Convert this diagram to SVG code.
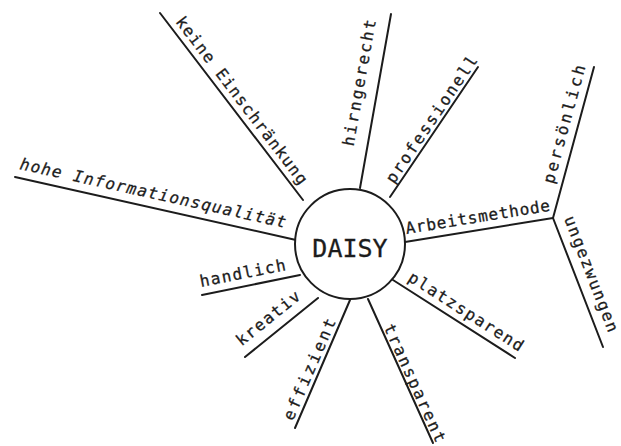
<svg xmlns="http://www.w3.org/2000/svg" width="621" height="446" viewBox="0 0 621 446">
<style>
.ln{stroke:#1c1c1c;stroke-width:2;fill:none;stroke-linecap:round}
.lb{font-family:"DejaVu Sans Mono","Liberation Mono",monospace;font-size:16px;fill:#1c1c1c;stroke:#1c1c1c;stroke-width:0.3}
.ctr{font-family:"DejaVu Sans Mono","Liberation Mono",monospace;font-size:25px;fill:#1c1c1c;stroke:#1c1c1c;stroke-width:0.3}
</style>
<rect width="621" height="446" fill="#ffffff"/>
<g id="connectors">
<line class="ln" x1="160" y1="13" x2="303" y2="200"/>
<line class="ln" x1="391" y1="14" x2="360" y2="188"/>
<line class="ln" x1="478" y1="67" x2="390" y2="197"/>
<line class="ln" x1="15" y1="177" x2="296" y2="240"/>
<line class="ln" x1="405" y1="242" x2="553" y2="218"/>
<line class="ln" x1="553" y1="218" x2="594" y2="67"/>
<line class="ln" x1="553" y1="218" x2="603" y2="347"/>
<line class="ln" x1="393" y1="280" x2="515" y2="358"/>
<line class="ln" x1="202" y1="295" x2="300" y2="275"/>
<line class="ln" x1="245" y1="357" x2="318" y2="298"/>
<line class="ln" x1="295" y1="428" x2="350" y2="300"/>
<line class="ln" x1="368" y1="299" x2="433" y2="443"/>
</g>
<g id="daisy">
<circle cx="350" cy="244" r="55" fill="#ffffff" stroke="#1c1c1c" stroke-width="2"/>
<text class="ctr" x="350" y="257" text-anchor="middle">DAISY</text>
</g>
<g id="keine-einschraenkung"><text class="lb" transform="translate(175,21.7) rotate(52.7)" textLength="206" lengthAdjust="spacing">keine Einschränkung</text></g>
<g id="hirngerecht"><text class="lb" transform="translate(353.4,146.7) rotate(-79.9)" textLength="128" lengthAdjust="spacing">hirngerecht</text></g>
<g id="professionell"><text class="lb" transform="translate(394,184.5) rotate(-55.9)" textLength="150" lengthAdjust="spacing">professionell</text></g>
<g id="hohe-informationsqualitaet"><text class="lb" font-style="italic" transform="translate(19,169) rotate(12.5)" textLength="272" lengthAdjust="spacing">hohe Informationsqualität</text></g>
<g id="arbeitsmethode"><text class="lb" transform="translate(406.5,234) rotate(-9.2)" textLength="146" lengthAdjust="spacing">Arbeitsmethode</text></g>
<g id="persoenlich"><text class="lb" transform="translate(553.5,184.5) rotate(-74.8)" textLength="122" lengthAdjust="spacing">persönlich</text></g>
<g id="ungezwungen"><text class="lb" transform="translate(564,218.5) rotate(68.8)" textLength="123" lengthAdjust="spacing">ungezwungen</text></g>
<g id="platzsparend"><text class="lb" transform="translate(407,280.2) rotate(32.6)" textLength="133" lengthAdjust="spacing">platzsparend</text></g>
<g id="handlich"><text class="lb" transform="translate(201,287) rotate(-11.2)" textLength="87" lengthAdjust="spacing">handlich</text></g>
<g id="kreativ"><text class="lb" transform="translate(241.5,346.5) rotate(-38.9)" textLength="77" lengthAdjust="spacing">kreativ</text></g>
<g id="effizient"><text class="lb" transform="translate(292.8,421.5) rotate(-66.6)" textLength="109" lengthAdjust="spacing">effizient</text></g>
<g id="transparent"><text class="lb" transform="translate(383.5,327) rotate(65.7)" textLength="128" lengthAdjust="spacing">transparent</text></g>
</svg>
